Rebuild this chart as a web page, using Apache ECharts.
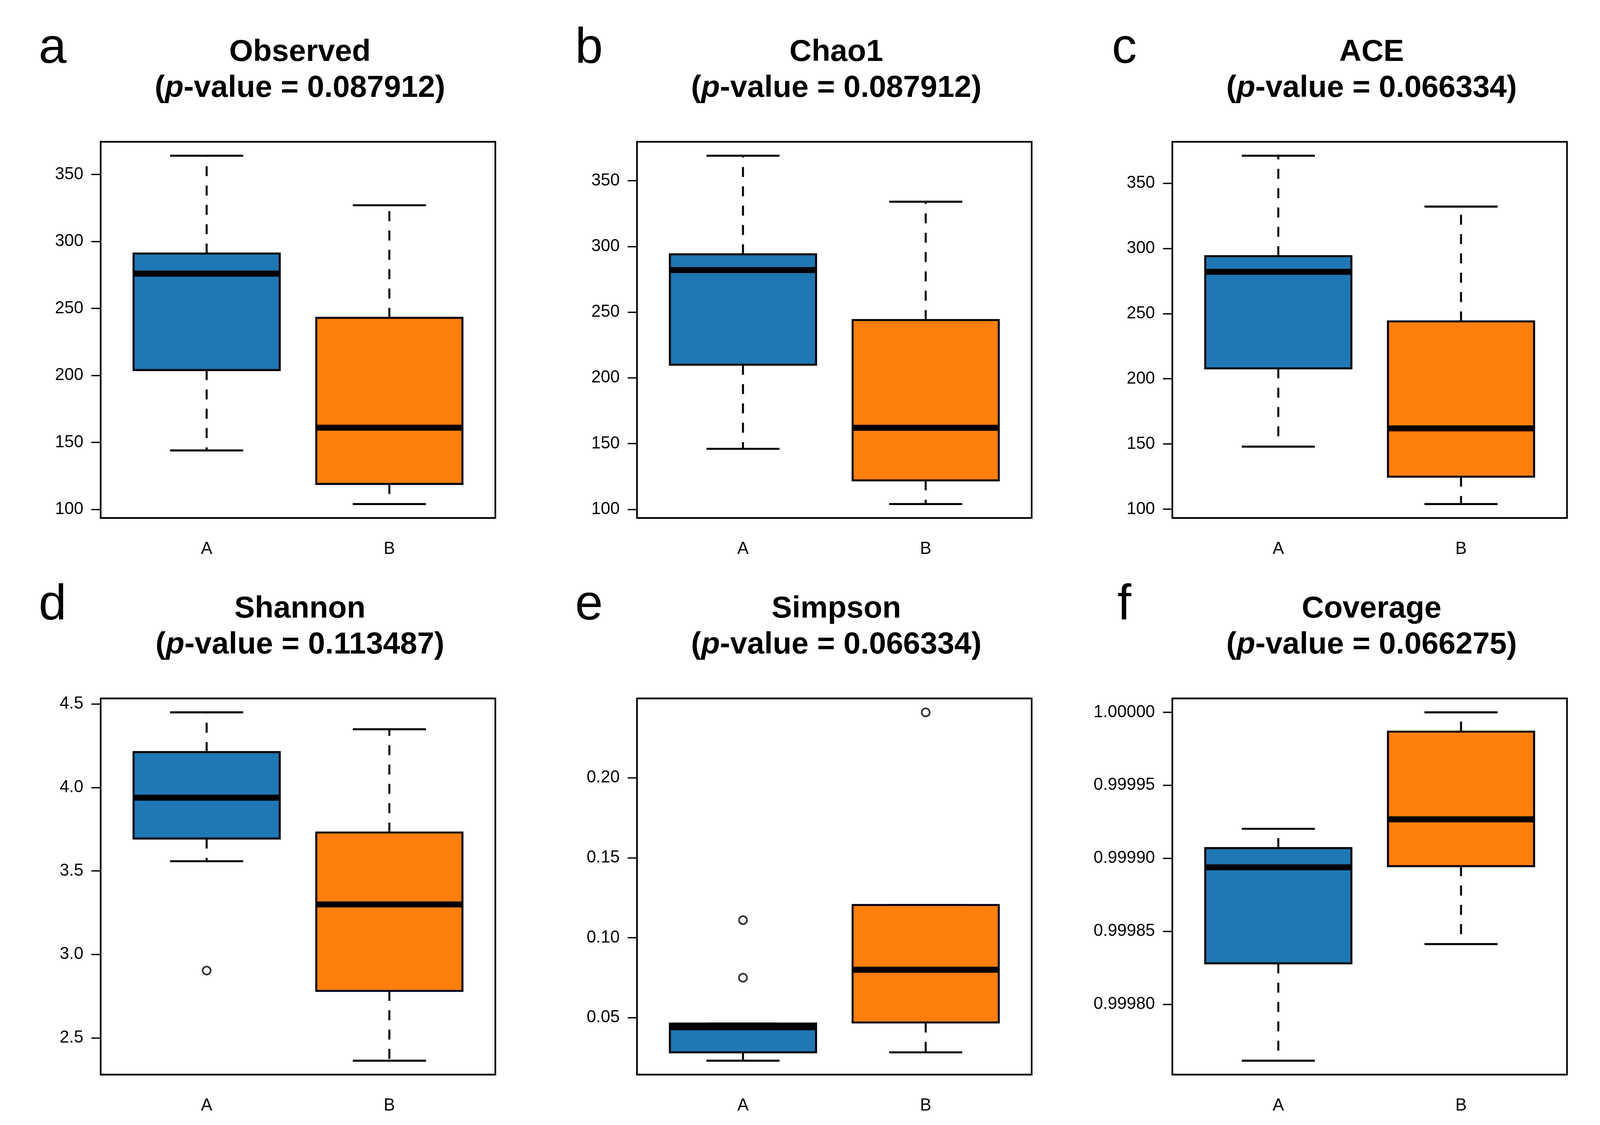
<!DOCTYPE html>
<html><head><meta charset="utf-8">
<script src="https://cdn.jsdelivr.net/npm/echarts@6/dist/echarts.min.js"></script>
<style>html,body{margin:0;padding:0;background:#fff;overflow:hidden}#c{width:100vw;height:100vh}</style>
</head><body><div id="c"></div>
<script>
const groups = ['A', 'B'];
const colors = ['#1f77b4', '#ff7f0e'];
const panelLetters = ['a', 'b', 'c', 'd', 'e', 'f'];
const metricNames = ['Observed', 'Chao1', 'ACE', 'Shannon', 'Simpson', 'Coverage'];
const pValues = ['0.087912', '0.087912', '0.066334', '0.113487', '0.066334', '0.066275'];
// [min, Q1, median, Q3, max] per group
const observedA = [144, 204, 276, 291, 364];
const observedB = [104, 119, 161, 243, 327];
const chao1A = [146, 210, 282, 294, 369];
const chao1B = [104, 122, 162, 244, 334];
const aceA = [148, 208, 282, 294, 371];
const aceB = [104, 125, 162, 244, 332];
const shannonA = [3.558, 3.694, 3.939, 4.212, 4.45];
const shannonB = [2.363, 2.781, 3.299, 3.73, 4.349];
const simpsonA = [0.0231, 0.0283, 0.044, 0.0463, 0.0463];
const simpsonB = [0.0283, 0.047, 0.080, 0.1205, 0.1205];
const coverageA = [0.9997613, 0.999828, 0.9998938, 0.999907, 0.9999202];
const coverageB = [0.9998412, 0.9998946, 0.9999267, 0.9999868, 1.0];
const outliersA = [[], [], [], [2.903], [0.111, 0.075], []];
const outliersB = [[], [], [], [], [0.241], []];
const ticks100 = [100, 150, 200, 250, 300, 350];
const ticksShannon = [2.5, 3.0, 3.5, 4.0, 4.5];
const ticksSimpson = [0.05, 0.10, 0.15, 0.20];
const ticksCoverage = [0.99980, 0.99985, 0.99990, 0.99995, 1.00000];
const tickDecimals = [0, 0, 0, 1, 2, 5];

const boxData = [[observedA, observedB], [chao1A, chao1B], [aceA, aceB], [shannonA, shannonB], [simpsonA, simpsonB], [coverageA, coverageB]];
const tickSets = [ticks100, ticks100, ticks100, ticksShannon, ticksSimpson, ticksCoverage];

const el = document.getElementById('c');
const W = el.clientWidth || window.innerWidth, H = el.clientHeight || window.innerHeight;
const sx = W / 4800, sy = H / 2880, fs = Math.min(sx, sy);
const colLeft = [302, 1911, 3517], rowTop = [363, 1788], gw = 1184, gh = 963;
const FONT = 'Liberation Sans';
const grids = [], xAxes = [], yAxes = [], series = [], titles = [];

for (let p = 0; p < 6; p++) {
  const col = p % 3, row = Math.floor(p / 3);
  const left = colLeft[col] * sx, top = rowTop[row] * sy;
  let vals = [];
  boxData[p].forEach(b => vals.push(...b));
  vals.push(...outliersA[p], ...outliersB[p]);
  const lo = Math.min(...vals), hi = Math.max(...vals), pad = (hi - lo) * 0.04;
  const ymin = lo - pad, ymax = hi + pad;
  grids.push({left: left, top: top, width: gw * sx, height: gh * sy, show: true, borderColor: '#000', borderWidth: 5 * fs, backgroundColor: 'transparent'});
  xAxes.push({gridIndex: p, type: 'value', min: 0.42, max: 2.58, show: false});
  const dec = tickDecimals[p];
  yAxes.push({gridIndex: p, type: 'value', min: ymin, max: ymax, splitLine: {show: false},
    axisLine: {show: false},
    axisTick: {show: true, length: 28 * sx, lineStyle: {color: '#000', width: 4 * fs}, customValues: tickSets[p]},
    axisLabel: {show: true, margin: 52 * sx, fontSize: 51 * fs, fontFamily: FONT, color: '#000', customValues: tickSets[p],
      formatter: v => Number(v).toFixed(dec)}});
  const data = boxData[p].map((b, i) => [i + 1, ...b]);
  series.push({type: 'custom', xAxisIndex: p, yAxisIndex: p, data: data, clip: false,
    renderItem: (params, api) => {
      const x = api.value(0), mn = api.value(1), q1 = api.value(2), md = api.value(3), q3 = api.value(4), mx = api.value(5);
      const i = params.dataIndex;
      const c = (xx, yy) => api.coord([xx, yy]);
      const bl = c(x - 0.4, q3), br = c(x + 0.4, q1);
      const children = [];
      const lw = 6 * fs;
      const dash = {stroke: '#000', lineWidth: lw, lineDash: [30 * fs, 28 * fs]};
      if (mx > q3) children.push({type: 'line', shape: {x1: c(x, q3)[0], y1: c(x, q3)[1], x2: c(x, mx)[0], y2: c(x, mx)[1]}, style: dash});
      if (mn < q1) children.push({type: 'line', shape: {x1: c(x, q1)[0], y1: c(x, q1)[1], x2: c(x, mn)[0], y2: c(x, mn)[1]}, style: dash});
      const capL = c(x - 0.2, mx), capR = c(x + 0.2, mx);
      children.push({type: 'line', shape: {x1: capL[0], y1: capL[1], x2: capR[0], y2: capR[1]}, style: {stroke: '#000', lineWidth: lw}});
      const capL2 = c(x - 0.2, mn), capR2 = c(x + 0.2, mn);
      children.push({type: 'line', shape: {x1: capL2[0], y1: capL2[1], x2: capR2[0], y2: capR2[1]}, style: {stroke: '#000', lineWidth: lw}});
      children.push({type: 'rect', shape: {x: bl[0], y: bl[1], width: br[0] - bl[0], height: br[1] - bl[1]}, style: {fill: colors[i], stroke: '#000', lineWidth: lw}});
      const mL = c(x - 0.4, md), mR = c(x + 0.4, md);
      children.push({type: 'line', shape: {x1: mL[0] + lw / 2, y1: mL[1], x2: mR[0] - lw / 2, y2: mR[1]}, style: {stroke: '#000', lineWidth: 18 * fs}});
      const lb = c(x, ymin);
      children.push({type: 'text', x: lb[0], y: lb[1] + 80 * sy, style: {text: groups[i], fontSize: 51 * fs, fontFamily: FONT, fill: '#000', align: 'center', verticalAlign: 'middle'}});
      return {type: 'group', children: children};
    }});
  const outs = [];
  outliersA[p].forEach(v => outs.push([1, v]));
  outliersB[p].forEach(v => outs.push([2, v]));
  if (outs.length) series.push({type: 'scatter', xAxisIndex: p, yAxisIndex: p, data: outs, symbol: 'circle', symbolSize: 24 * fs,
    itemStyle: {color: '#fff', borderColor: '#000', borderWidth: 5 * fs}, z: 5});
  const tcx = left + gw * sx / 2;
  const ty = (row === 0 ? 129 : 1554) * sy;
  titles.push({text: '{b|' + metricNames[p] + '}\n{b|(}{i|p}{b|-value = ' + pValues[p] + ')}', left: tcx, top: ty - 54 * fs, textAlign: 'center',
    textStyle: {rich: {b: {fontSize: 92 * fs, fontWeight: 'bold', fontFamily: FONT, color: '#000', lineHeight: 108 * fs},
      i: {fontSize: 92 * fs, fontWeight: 'bold', fontStyle: 'italic', fontFamily: FONT, color: '#000', lineHeight: 108 * fs}}}});
  titles.push({text: panelLetters[p], left: left - 150 * sx, top: ty - 85 * fs, textAlign: 'center',
    textStyle: {fontSize: 150 * fs, fontWeight: 'normal', fontFamily: FONT, color: '#000'}});
}

const chart = echarts.init(el);
chart.setOption({animation: false, backgroundColor: '#fff', title: titles, grid: grids, xAxis: xAxes, yAxis: yAxes, series: series});
</script></body></html>
